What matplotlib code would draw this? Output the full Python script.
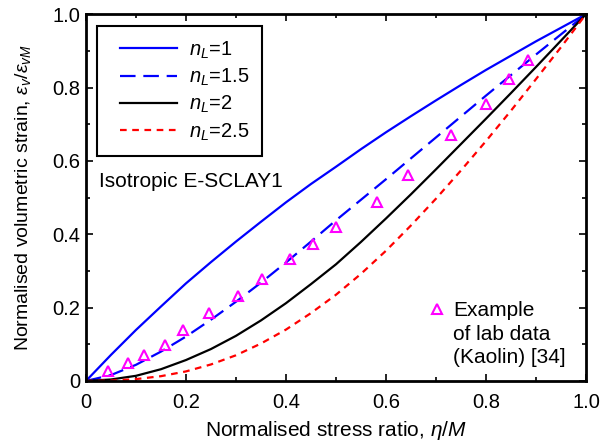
import numpy as np
import matplotlib
matplotlib.use('Agg')
import matplotlib.pyplot as plt
from matplotlib.lines import Line2D
from matplotlib.legend_handler import HandlerLine2D

plt.rcParams['font.family'] = ['Liberation Sans', 'DejaVu Sans']
plt.rcParams['mathtext.fontset'] = 'custom'
plt.rcParams['mathtext.rm'] = 'Liberation Sans'
plt.rcParams['mathtext.it'] = 'Liberation Sans:italic'

# values
eta = [0.0, 0.05, 0.1, 0.15, 0.2, 0.25, 0.3, 0.35, 0.4, 0.45, 0.5,
       0.55, 0.6, 0.65, 0.7, 0.75, 0.8, 0.85, 0.9, 0.95, 1.0]
n1 = [0.0, 0.071, 0.139, 0.203, 0.266, 0.324, 0.380, 0.434, 0.487, 0.537, 0.584,
      0.632, 0.678, 0.722, 0.765, 0.807, 0.848, 0.887, 0.926, 0.963, 1.0]
n15 = [0.0, 0.016, 0.044, 0.080, 0.121, 0.167, 0.216, 0.268, 0.323, 0.380, 0.438,
       0.494, 0.550, 0.607, 0.664, 0.721, 0.778, 0.834, 0.890, 0.945, 1.0]
n2 = [0.0, 0.004, 0.014, 0.032, 0.057, 0.087, 0.123, 0.165, 0.212, 0.264, 0.318,
      0.379, 0.443, 0.509, 0.577, 0.646, 0.715, 0.785, 0.856, 0.928, 1.0]
n25 = [0.0, 0.001, 0.005, 0.013, 0.026, 0.045, 0.070, 0.102, 0.140, 0.185, 0.235,
       0.292, 0.355, 0.424, 0.497, 0.574, 0.654, 0.737, 0.823, 0.910, 1.0]

lab_x = [0.045, 0.085, 0.116, 0.158, 0.194, 0.247, 0.304, 0.353, 0.408, 0.455,
         0.500, 0.583, 0.645, 0.730, 0.800, 0.846, 0.885]
lab_y = [0.026, 0.049, 0.070, 0.098, 0.140, 0.184, 0.231, 0.278, 0.332, 0.374,
         0.421, 0.489, 0.562, 0.671, 0.754, 0.822, 0.876]

fig = plt.figure(figsize=(6.01, 4.44), dpi=100)
ax = fig.add_axes([0.143, 0.142, 0.832, 0.826])

l1, = ax.plot(eta, n1, color='#0000ff', lw=1.6)
l2, = ax.plot(eta, n15, color='#0000ff', lw=1.6, dashes=(7, 3.5))
l3, = ax.plot(eta, n2, color='black', lw=1.6)
l4, = ax.plot(eta, n25, color='#ff0000', lw=1.6, dashes=(3, 2.5))
pts, = ax.plot(lab_x, lab_y, '^', ms=7, mfc='none', mec='#ff00ff', mew=1.5)

ax.set_xlim(0, 1)
ax.set_ylim(0, 1)
ticks = [0, 0.2, 0.4, 0.6, 0.8, 1.0]
tlabels = ['0', '0.2', '0.4', '0.6', '0.8', '1.0']
ax.set_xticks(ticks)
ax.set_xticklabels(tlabels)
ax.set_yticks(ticks)
ax.set_yticklabels(tlabels)
ax.set_xticks(np.arange(0.1, 1.0, 0.2), minor=True)
ax.set_yticks(np.arange(0.1, 1.0, 0.2), minor=True)
ax.tick_params(which='both', direction='in', top=True, right=True, labelsize=14.5, width=1.2)
ax.tick_params(which='major', length=5)
ax.tick_params(which='minor', length=3)
ax.tick_params(axis='x', which='major', pad=8.5)
ax.tick_params(axis='y', which='major', pad=4)
for s in ax.spines.values():
    s.set_linewidth(2)

ax.set_xlabel(r'Normalised stress ratio, $\eta/M$', fontsize=15, labelpad=5.5)
ax.set_ylabel(r'Normalised volumetric strain, $\varepsilon_v/\varepsilon_{vM}$', fontsize=14, labelpad=14)

leg = ax.legend([l1, l2, l3, l4], [r'$n_L$=1', r'$n_L$=1.5', r'$n_L$=2', r'$n_L$=2.5'],
                loc='upper left', bbox_to_anchor=(0.022, 0.967), borderaxespad=0,
                fontsize=14.5, fancybox=False, edgecolor='black', framealpha=1,
                handlelength=3.35, handletextpad=0.55, borderpad=0.65, labelspacing=0.3,
                handler_map={Line2D: HandlerLine2D(xpad=0.5)})
leg.get_frame().set_linewidth(1.5)
ax.add_artist(leg)

ax.text(0.026, 0.545, 'Isotropic E-SCLAY1', transform=ax.transAxes, fontsize=15, va='center')

blank = Line2D([], [], linestyle='none')
leg2 = ax.legend([pts, blank, blank], ['Example', 'of lab data', '(Kaolin) [34]'],
                 loc='upper left', bbox_to_anchor=(0.686, 0.217), borderaxespad=0,
                 borderpad=0, frameon=False, fontsize=15, handlelength=0.8,
                 handletextpad=0.35, labelspacing=0.2)

fig.savefig('out.png', dpi=100)
